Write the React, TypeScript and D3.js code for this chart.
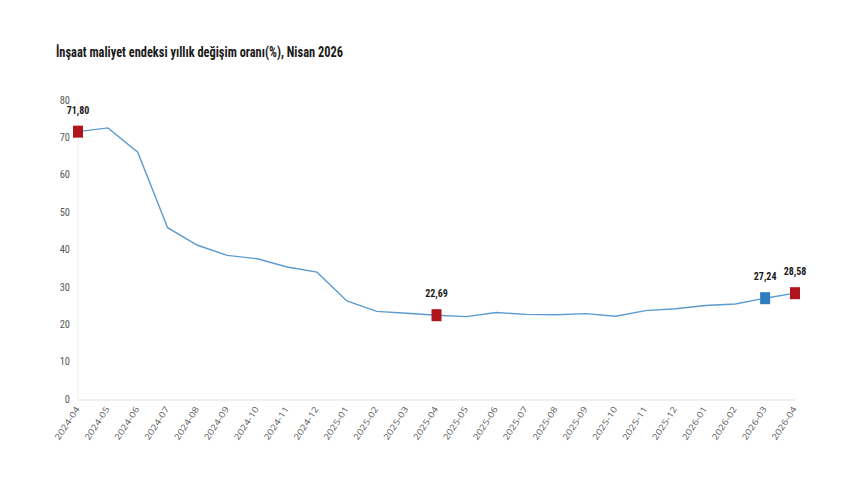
import React from "react";
import * as d3 from "d3";

const months = [
  "2024-04","2024-05","2024-06","2024-07","2024-08","2024-09","2024-10","2024-11","2024-12",
  "2025-01","2025-02","2025-03","2025-04","2025-05","2025-06","2025-07","2025-08","2025-09",
  "2025-10","2025-11","2025-12","2026-01","2026-02","2026-03","2026-04",
];
const values = [
  71.8, 72.8, 66.3, 46.1, 41.4, 38.7, 37.8, 35.6, 34.2,
  26.5, 23.7, 23.2, 22.69, 22.3, 23.4, 22.9, 22.8, 23.1,
  22.4, 23.9, 24.4, 25.3, 25.7, 27.24, 28.58,
];
const yTicks = [0, 10, 20, 30, 40, 50, 60, 70, 80];
const highlights = [
  { month: "2024-04", label: "71,80", kind: "red" },
  { month: "2025-04", label: "22,69", kind: "red" },
  { month: "2026-03", label: "27,24", kind: "blue" },
  { month: "2026-04", label: "28,58", kind: "red" },
];
const title = "İnşaat maliyet endeksi yıllık değişim oranı(%), Nisan 2026";

export default function App() {
  const W = 860, H = 504;
  const x = d3.scalePoint<string>().domain(months).range([78, 795]);
  const y = d3.scaleLinear().domain([0, 80]).range([400, 101]);
  const line = d3
    .line<number>()
    .x((_, i) => x(months[i]) as number)
    .y((d) => y(d));
  const narrow = "'Liberation Sans Narrow', 'Roboto Condensed', 'Arial Narrow', Roboto, sans-serif";
  const tickFont = "'Open Sans', Roboto, sans-serif";
  const colors: Record<string, string> = { red: "#b0151d", blue: "#2f7dc1" };

  return (
    <svg width={W} height={H} style={{ position: "absolute", left: 0, top: 0, background: "#fff" }}>
      <text x={56} y={57} fontFamily={narrow} fontWeight="bold" fontSize={15} fill="#1a1a1a" textLength={287} lengthAdjust="spacingAndGlyphs">
        {title}
      </text>
      <line x1={78} x2={78} y1={101} y2={400} stroke="#efefef" strokeWidth={1} />
      <line x1={78} x2={795} y1={400} y2={400} stroke="#e2e2e2" strokeWidth={1} />
      {yTicks.map((t) => (
        <text key={t} x={70} y={y(t) - 1} dy="0.35em" textAnchor="end" fontFamily={narrow} fontSize={10.5} fill="#595959">
          {t}
        </text>
      ))}
      {months.map((m) => (
        <text
          key={m}
          transform={`translate(${(x(m) as number) + 2},${409}) rotate(-57)`}
          textAnchor="end"
          fontFamily={tickFont}
          fontSize={8.5}
          fill="#595959"
          textLength={38}
          lengthAdjust="spacingAndGlyphs"
        >
          {m}
        </text>
      ))}
      <path d={line(values) || ""} fill="none" stroke="#5b9bd0" strokeWidth={1.4} />
      {highlights.map((h) => {
        const i = months.indexOf(h.month);
        const cx = x(h.month) as number;
        const cy = y(values[i]);
        return (
          <g key={h.month}>
            <rect x={cx - 5} y={cy - 6} width={10} height={12} fill={colors[h.kind]} />
            <text x={cx} y={cy - 18} textAnchor="middle" fontFamily={narrow} fontWeight="bold" fontSize={10} fill="#1a1a1a">
              {h.label}
            </text>
          </g>
        );
      })}
    </svg>
  );
}
